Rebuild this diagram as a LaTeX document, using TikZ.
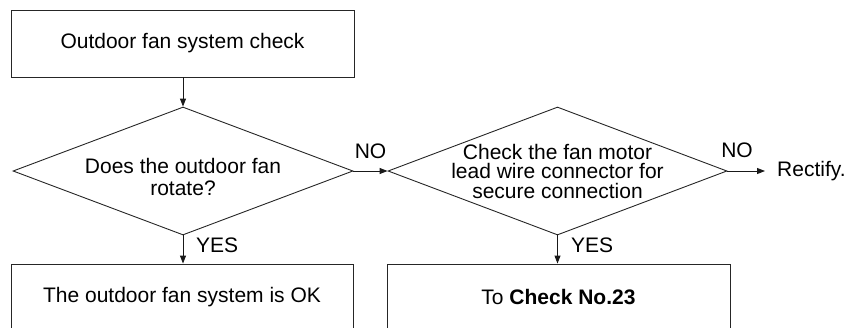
\documentclass[tikz,border=0pt]{standalone}
\usepackage{fontspec}
\setmainfont{Liberation Sans}
\usetikzlibrary{shapes.geometric,arrows.meta}
\tikzset{
  box/.style={draw=black!85, line width=0.9pt, inner sep=0pt, minimum width=343pt, minimum height=67pt},
  dia/.style={draw=black!85, line width=0.9pt, diamond, inner sep=0pt, minimum width=340pt, minimum height=128pt},
  txt/.style={align=center, inner sep=0pt, font=\fontsize{21}{21}\selectfont},
  lbl/.style={inner sep=0pt, font=\fontsize{21}{21}\selectfont},
  arr/.style={draw=black!90, line width=0.9pt, -{Triangle[length=8pt,width=6pt]}},
}
\begin{document}
\begin{tikzpicture}[x=1pt,y=-1pt]
\clip (0,0) rectangle (848,327);
\useasboundingbox (0,0) rectangle (848,327);
\node[box] (top) at (182.5,43.5) {};
\node[txt] at (top) {Outdoor fan system check};
\node[dia] (d1) at (183,171) {};
\node[txt, font=\fontsize{21}{21.5}\selectfont] at (183,177) {Does the outdoor fan\\rotate?};
\node[dia, minimum width=339pt] (d2) at (557.5,171) {};
\node[txt, font=\fontsize{21}{19.5}\selectfont] at (557.5,171) {Check the fan motor\\lead wire connector for\\secure connection};
\node[lbl, inner xsep=12pt, anchor=west] (rect) at (765,171) {Rectify.};
\node[box, minimum width=342pt] (b1) at (182,297.5) {};
\node[txt] at (b1) {The outdoor fan system is OK};
\node[box] (b2) at (558.5,297.5) {};
\node[txt] at (b2) {To \textbf{Check No.23}};
\draw[arr] (top.south -| d1.north) -- (d1.north);
\draw[arr] (d1.east) -- node[lbl, above=12pt] {NO} (d2.west);
\draw[arr] (d2.east) -- (rect.west);
\node[lbl] at (737,150) {NO};
\draw[arr] (d1.south) -- (d1.south |- b1.north);
\node[lbl, anchor=west] at (196,245.5) {YES};
\draw[arr] (d2.south) -- (d2.south |- b2.north);
\node[lbl, anchor=west] at (571,245.5) {YES};
\end{tikzpicture}
\end{document}
